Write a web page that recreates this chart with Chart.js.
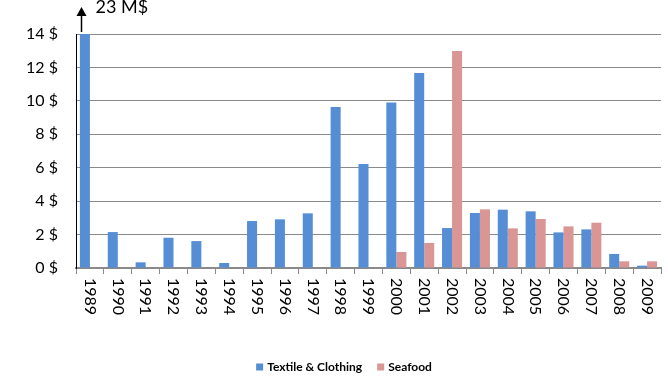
<!DOCTYPE html>
<html><head><meta charset="utf-8">
<script src="https://cdn.jsdelivr.net/npm/chart.js@4"></script>
<style>html,body{margin:0;padding:0;background:#fff}</style>
</head><body>
<canvas id="c" width="668" height="380"></canvas>
<script>
// Annual values in millions of dollars
const years = ['1989','1990','1991','1992','1993','1994','1995','1996','1997','1998','1999',
               '2000','2001','2002','2003','2004','2005','2006','2007','2008','2009'];
const textileClothing = [23, 2.15, 0.34, 1.81, 1.61, 0.30, 2.81, 2.91, 3.27, 9.63, 6.22,
                         9.90, 11.66, 2.39, 3.29, 3.49, 3.39, 2.13, 2.31, 0.84, 0.14];
const seafood = [null, null, null, null, null, null, null, null, null, null, null,
                 0.96, 1.50, 12.98, 3.51, 2.37, 2.93, 2.49, 2.71, 0.40, 0.40];
const seriesNames = ['Textile & Clothing', 'Seafood'];
const seriesColors = ['#558ED5', '#D99694'];
const yMax = 14, yStep = 2;
const offScaleNote = '23 M$';

const FONT = 'Lato, "Open Sans", sans-serif';

// Vertical year labels, the off-scale arrow and the legend
const decorations = {
  id: 'decorations',
  afterDraw(chart) {
    const ctx = chart.ctx;
    const xs = chart.scales.x;
    const area = chart.chartArea;
    ctx.save();

    // year labels, reading top to bottom
    ctx.fillStyle = '#000';
    ctx.font = '16px ' + FONT;
    ctx.textAlign = 'left';
    ctx.textBaseline = 'middle';
    years.forEach((y, i) => {
      const x = xs.getPixelForValue(i);
      ctx.save();
      ctx.translate(x, xs.top + 10);
      ctx.rotate(Math.PI / 2);
      ctx.fillText(y, 0, 0);
      ctx.restore();
    });

    // arrow above the first bar, which runs off the scale
    const bar = chart.getDatasetMeta(0).data[0];
    const ax = Math.round(bar.x - bar.width / 2) + 1.5;
    ctx.strokeStyle = '#000';
    ctx.lineWidth = 1.5;
    ctx.beginPath();
    ctx.moveTo(ax, area.top - 2);
    ctx.lineTo(ax, 14);
    ctx.stroke();
    ctx.beginPath();
    ctx.moveTo(ax, 7);
    ctx.lineTo(ax - 5, 16);
    ctx.lineTo(ax + 5, 16);
    ctx.closePath();
    ctx.fill();
    ctx.font = '18px ' + FONT;
    ctx.textBaseline = 'alphabetic';
    ctx.fillText(offScaleNote, ax + 14, 13);

    // legend
    ctx.font = 'bold 12px ' + FONT;
    ctx.textBaseline = 'middle';
    const box = 7, gapBox = 4, gapItem = 15;
    const widths = seriesNames.map(n => box + gapBox + ctx.measureText(n).width);
    const total = widths.reduce((a, b) => a + b, 0) + gapItem * (seriesNames.length - 1);
    let lx = chart.width / 2 + 10 - total / 2;
    const ly = 367;
    seriesNames.forEach((n, i) => {
      ctx.fillStyle = seriesColors[i];
      ctx.fillRect(lx, ly - box / 2, box, box);
      ctx.fillStyle = '#000';
      ctx.fillText(n, lx + box + gapBox, ly);
      lx += widths[i] + gapItem;
    });
    ctx.restore();
  }
};

new Chart(document.getElementById('c'), {
  type: 'bar',
  data: {
    labels: years,
    datasets: [
      { label: seriesNames[0], data: textileClothing, backgroundColor: seriesColors[0],
        categoryPercentage: 0.72, barPercentage: 1.0 },
      { label: seriesNames[1], data: seafood, backgroundColor: seriesColors[1],
        categoryPercentage: 0.72, barPercentage: 1.0 }
    ]
  },
  options: {
    responsive: false,
    animation: false,
    events: [],
    layout: { padding: { top: 34, right: 7, left: 0, bottom: 40 } },
    plugins: { legend: { display: false }, tooltip: { enabled: false } },
    scales: {
      x: {
        afterFit(s) { s.height = 72; },
        grid: { offset: true, drawOnChartArea: false, color: '#8a8a8a', lineWidth: 1, tickLength: 6 },
        border: { display: true, color: '#8a8a8a', width: 2 },
        ticks: { display: false }
      },
      y: {
        min: 0, max: yMax,
        afterFit(s) { s.width = 76; },
        grid: { color: '#8a8a8a', lineWidth: 1, drawTicks: false },
        border: { display: true, color: '#000', width: 1 },
        ticks: {
          stepSize: yStep, padding: 18, color: '#000',
          font: { family: FONT, size: 16 },
          callback: v => v + ' $'
        }
      }
    }
  },
  plugins: [decorations]
});
</script>
</body></html>
